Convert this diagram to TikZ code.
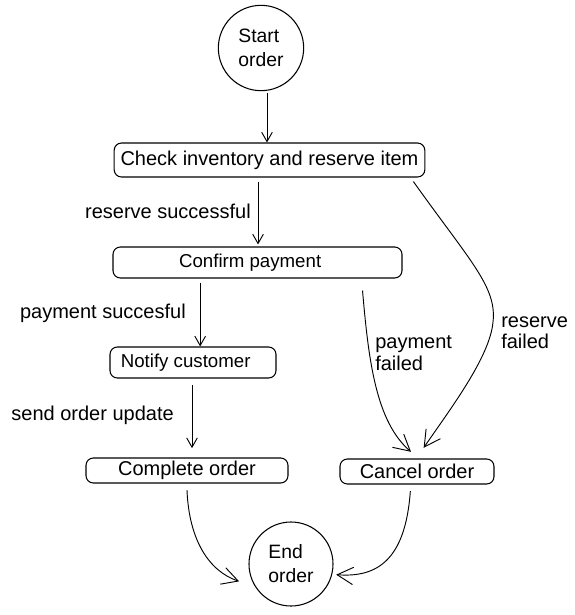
\documentclass[tikz,border=0pt]{standalone}
\usepackage{fontspec}
\setmainfont{Liberation Sans}
\usetikzlibrary{arrows.meta}
\begin{document}
\begin{tikzpicture}[x=0.75pt,y=-0.75pt,
  box/.style={draw, rounded corners=5.5pt, line width=0.8pt, inner sep=0pt, font=\fontsize{14}{16}\selectfont},
  circ/.style={draw, circle, line width=0.8pt, inner sep=0pt, align=left, font=\fontsize{14.5}{18}\selectfont},
  lbl/.style={inner sep=0pt, font=\fontsize{15}{16}\selectfont, align=left},
  arr/.style={line width=0.7pt, -{Straight Barb[length=7pt,width=8pt]}},
  carr/.style={line width=0.7pt, -{Straight Barb[length=12pt,width=13pt]}},
]
\useasboundingbox (0,0) rectangle (575,615);

\node[circ, minimum size=64pt] (start) at (261,48) {Start\\order};
\node[box, minimum width=233pt, minimum height=25.5pt, font=\fontsize{15}{17}\selectfont] (check) at (269.5,160) {Check inventory and reserve item};
\node[box, minimum width=216.75pt, minimum height=23.25pt] (confirm) at (257.5,262.5) {Confirm payment\rule{11pt}{0pt}};
\node[box, minimum width=124.5pt, minimum height=23.25pt] (notify) at (193,362.5) {Notify customer\rule{11pt}{0pt}};
\node[box, minimum width=151.5pt, minimum height=18.75pt, font=\fontsize{15}{17}\selectfont] (complete) at (187,470.5) {Complete order};
\node[box, minimum width=115.5pt, minimum height=18.75pt, font=\fontsize{15}{17}\selectfont] (cancel) at (417,471.5) {Cancel order};
\node[circ, minimum size=63pt] (endo) at (291,564) {End\\order};

\node[lbl, anchor=east] (l1) at (251,211) {reserve successful};
\node[lbl, anchor=east] (l2) at (186,313) {payment succesful};
\node[lbl, anchor=east] (l3) at (174,415) {send order update};
\node[lbl, anchor=west] (l4) at (375,353) {payment\\failed};
\node[lbl, anchor=west] (l5) at (501,333) {reserve\\failed};

\draw[arr] ([xshift=4.5pt,yshift=-1.5pt]start.south) -- ([xshift=4.5pt]start.south |- check.north);
\draw[arr] ([xshift=-8.6pt,yshift=-3pt]check.south) -- ([xshift=-8.6pt,yshift=1.5pt]check.south |- confirm.north);
\draw[arr] ([xshift=-43pt,yshift=-3pt]confirm.south) -- ([xshift=-43pt]confirm.south |- notify.north);
\draw[arr] ([xshift=-0.75pt,yshift=-5pt]notify.south) -- ([xshift=-0.75pt,yshift=7pt]notify.south |- complete.north);

\draw[carr] ([xshift=-30pt,yshift=-9pt]confirm.south east) .. controls +(6,70) and +(-35,-30) .. ([xshift=-4.5pt,yshift=5pt]cancel.north);
\coordinate (rf) at (493,322);
\draw[carr] ([xshift=-9pt,yshift=-3pt]check.south east) .. controls +(57,80) and +(4,-35) .. (rf) .. controls +(-3,35) and +(26,-38) .. ([xshift=5pt,yshift=8pt]cancel.north);

\draw[carr] ([yshift=-5pt]complete.south) .. controls +(2,50) and +(-30,-10) .. ([xshift=-7pt,yshift=-13pt]endo.west);
\draw[carr] ([xshift=-5pt,yshift=-5pt]cancel.south) .. controls +(-5,70) and +(40,3) .. ([xshift=2pt,yshift=-8pt]endo.east);
\end{tikzpicture}
\end{document}
